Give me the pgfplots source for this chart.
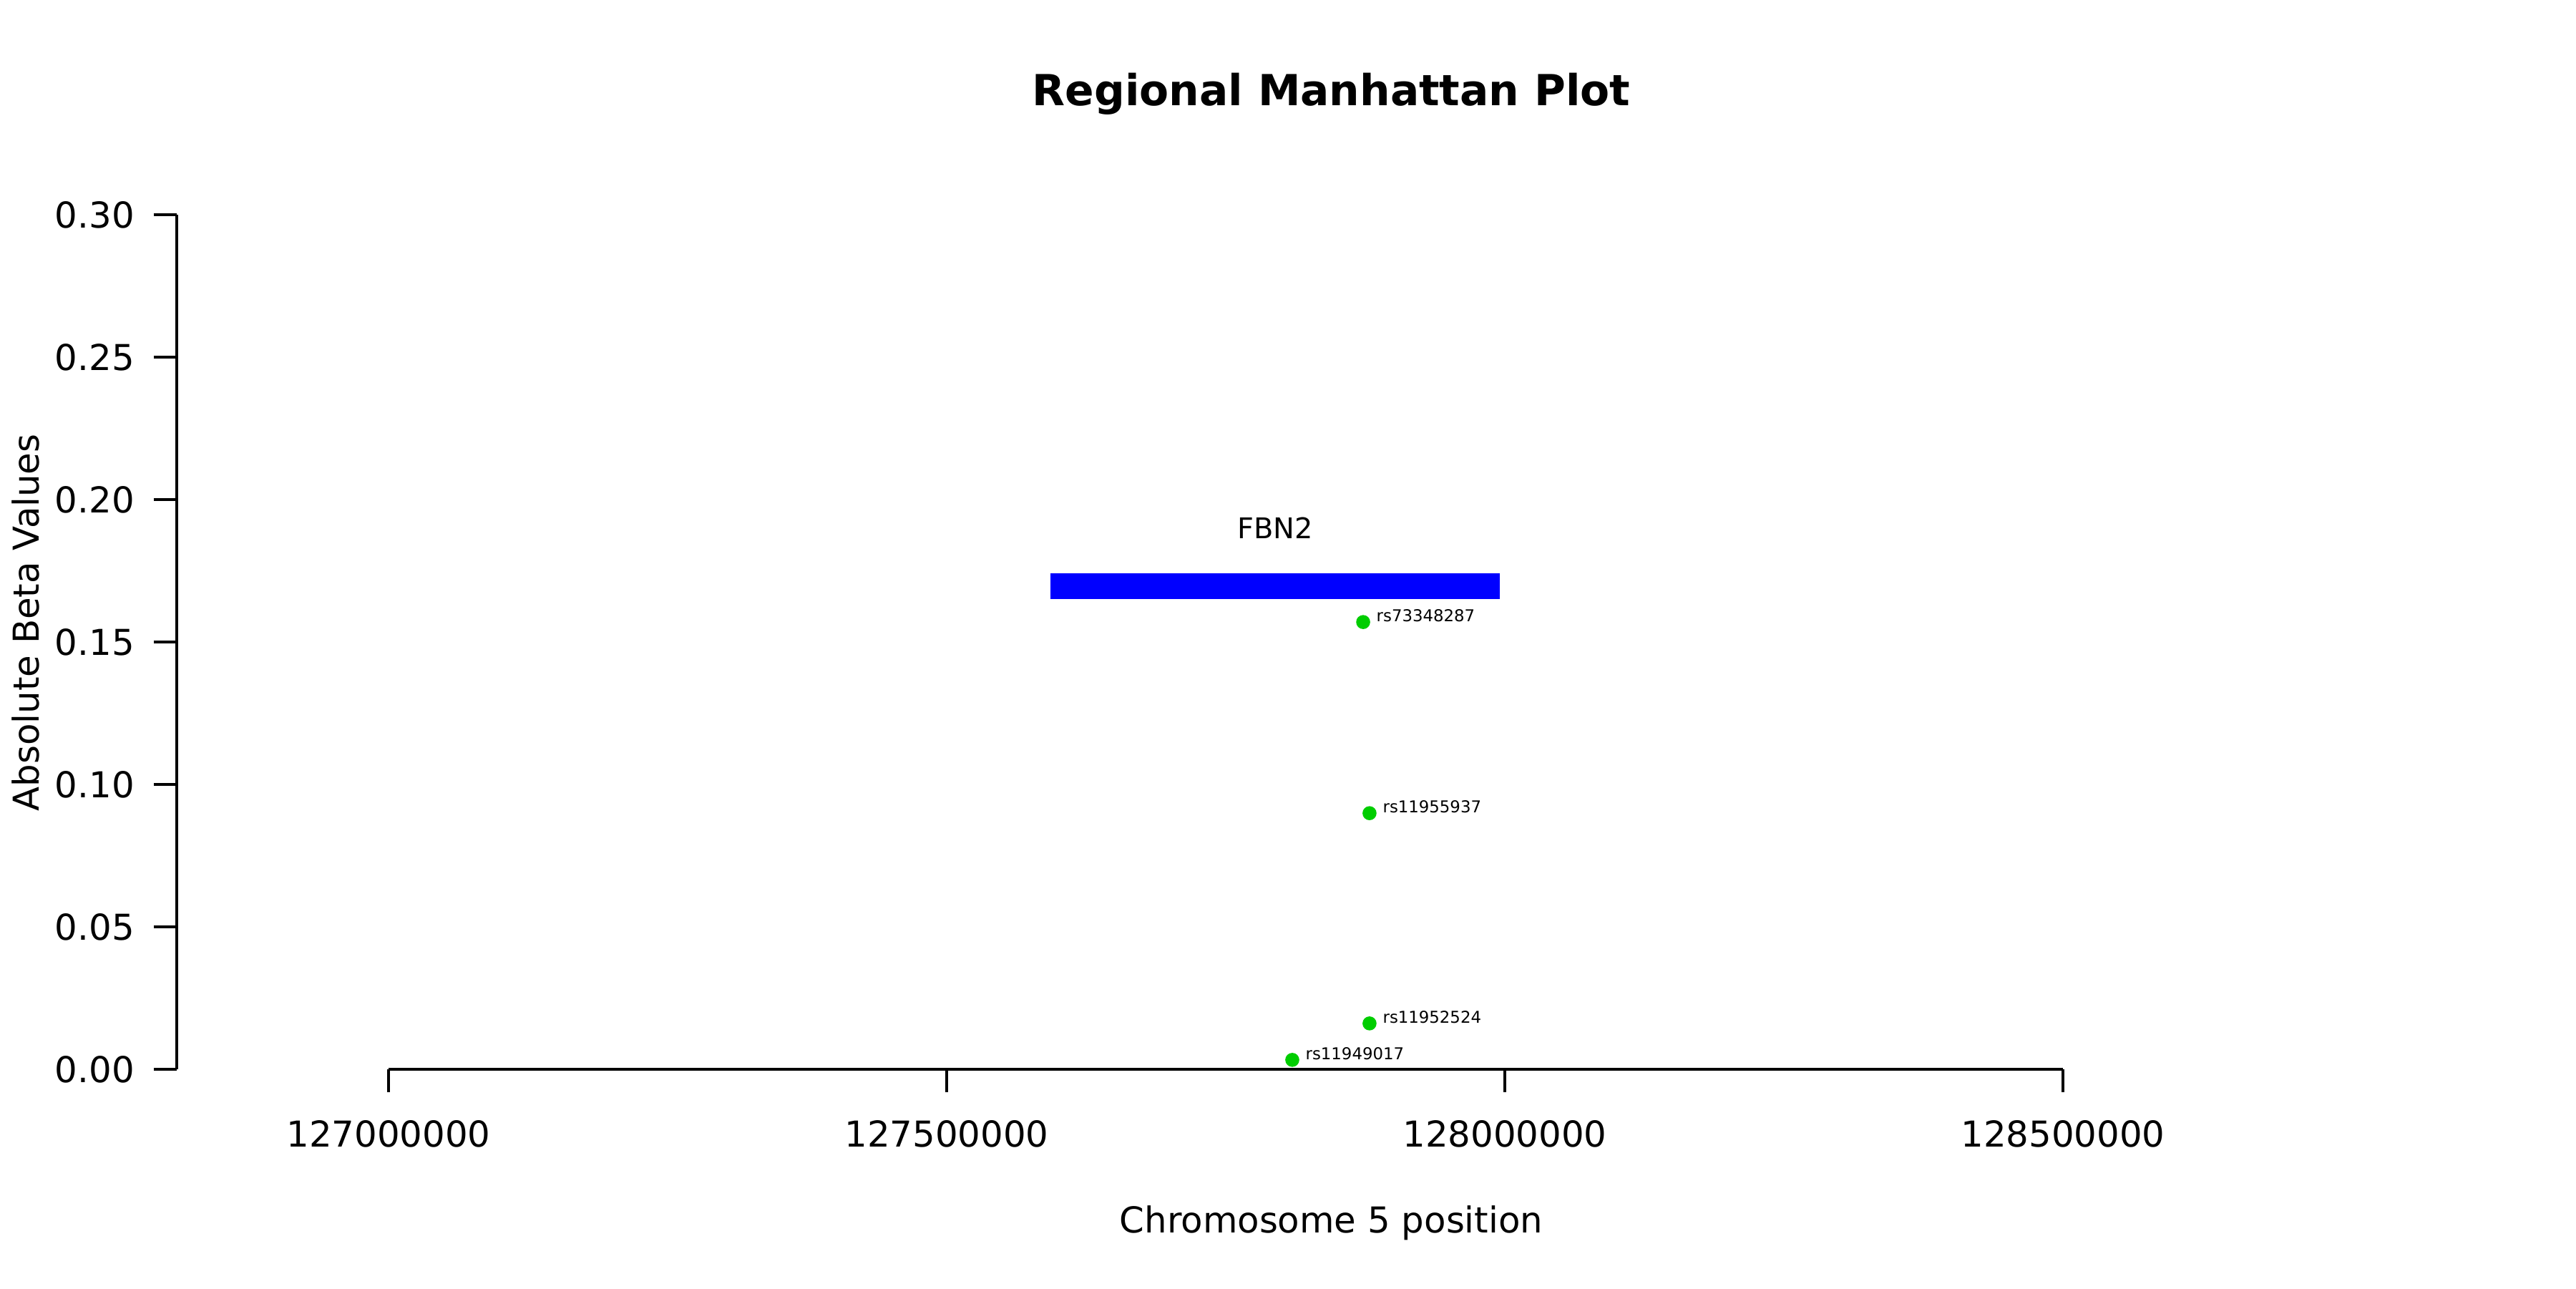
\documentclass[border=0pt]{standalone}
\usepackage{fontspec}
\setmainfont{DejaVu Sans}
\usepackage{pgfplots}
\usepackage{pgfplotstable}
\pgfplotsset{compat=1.18}
\definecolor{greenthree}{RGB}{0,205,0}
\definecolor{rblue}{RGB}{0,0,255}
\pgfplotstableread{
pos beta label
127873100 0.1570 rs73348287
127878800 0.0899 rs11955937
127878800 0.0161 rs11952524
127809600 0.0033 rs11949017
}\snps
\begin{document}
\begin{tikzpicture}
\path[use as bounding box] (-0.8233in,-1.02in) rectangle (11.1767in,4.98in);
\begin{axis}[
  at={(0,0)}, anchor=south west,
  scale only axis,
  width=10.7567in, height=4.16in,
  xmin=126810256, xmax=128878846,
  ymin=0, ymax=0.31357,
  clip=false,
  axis x line*=bottom, axis y line*=left,
  axis line style={draw=none},
  tick align=outside,
  major tick length=0.1067in,
  tick style={black, line width=0.75pt},
  scaled x ticks=false, scaled y ticks=false,
  xtick={127000000,127500000,128000000,128500000},
  xticklabels={127000000,127500000,128000000,128500000},
  ytick={0,0.05,0.10,0.15,0.20,0.25,0.30},
  yticklabels={0.00,0.05,0.10,0.15,0.20,0.25,0.30},
  /pgf/number format/assume math mode=true,
  ticklabel style={font=\fontsize{12}{14}\selectfont},
  xticklabel style={anchor=center, yshift=-0.195in},
  yticklabel style={anchor=east, inner sep=0pt, xshift=-0.088in},
  xlabel={Chromosome 5 position},
  ylabel={Absolute Beta Values},
  label style={font=\fontsize{12}{14}\selectfont},
  xlabel style={at={(axis description cs:0.5,0)}, anchor=center, yshift=-0.715in},
  ylabel style={at={(axis description cs:-0.06535,0.5)}, anchor=center},
  title={Regional Manhattan Plot},
  title style={at={(axis description cs:0.5,1)}, anchor=center, yshift=0.3in, font=\fontsize{14.4}{17}\selectfont\bfseries},
]
\draw[line width=0.75pt] (axis cs:127000000,0) -- (axis cs:128500000,0);
\draw[line width=0.75pt] (axis cs:126810256,0) -- (axis cs:126810256,0.3);
\addplot[draw=none, fill=rblue] coordinates {(127592900,0.1652) (127995500,0.1652) (127995500,0.1740) (127592900,0.1740)} -- cycle;
\node[font=\fontsize{9.6}{11}\selectfont] at (axis cs:127794200,0.190) {FBN2};
\addplot[only marks, mark=*, mark size=2.16pt, greenthree,
  nodes near coords, point meta=explicit symbolic,
  nodes near coords style={anchor=west, inner sep=0pt, xshift=4.3pt, yshift=2.2pt, text=black, font=\fontsize{5.5}{6}\selectfont}]
  table[x=pos, y=beta, meta=label] {\snps};
\end{axis}
\end{tikzpicture}
\end{document}
